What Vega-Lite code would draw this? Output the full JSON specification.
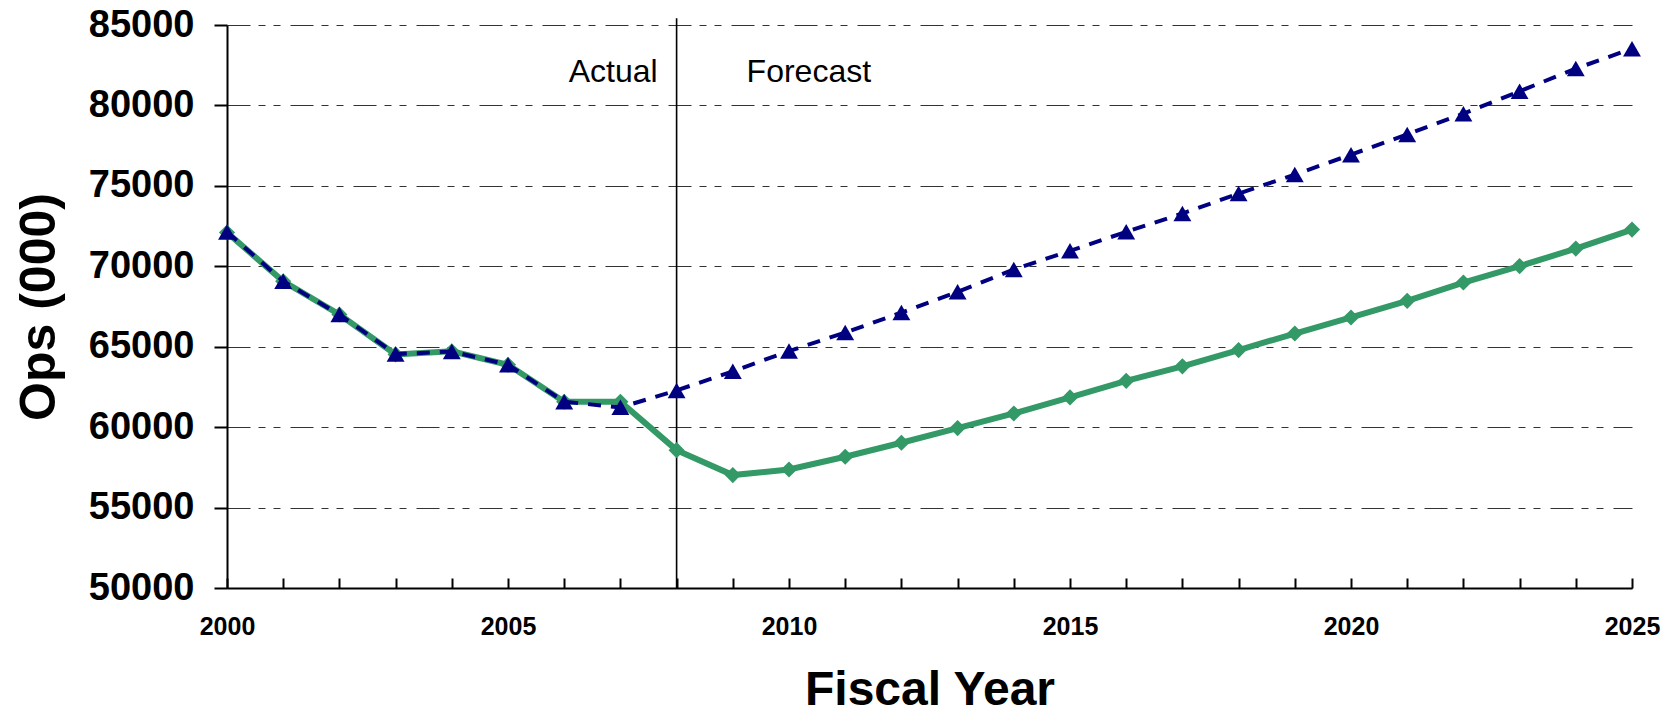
{
  "$schema": "https://vega.github.io/schema/vega-lite/v6.json",
  "autosize": {"type": "none"},
  "width": 1405,
  "height": 563,
  "padding": {"left": 227, "top": 25, "right": 43, "bottom": 129},
  "background": "white",
  "config": {"view": {"stroke": null}, "font": "Liberation Sans"},
  "datasets": {
    "ops": [
      {"year": 2000, "series": "Current", "ops": 72100},
      {"year": 2001, "series": "Current", "ops": 69070},
      {"year": 2002, "series": "Current", "ops": 67000},
      {"year": 2003, "series": "Current", "ops": 64520},
      {"year": 2004, "series": "Current", "ops": 64720},
      {"year": 2005, "series": "Current", "ops": 63880},
      {"year": 2006, "series": "Current", "ops": 61580},
      {"year": 2007, "series": "Current", "ops": 61580},
      {"year": 2008, "series": "Current", "ops": 58570},
      {"year": 2009, "series": "Current", "ops": 57020},
      {"year": 2010, "series": "Current", "ops": 57370},
      {"year": 2011, "series": "Current", "ops": 58160},
      {"year": 2012, "series": "Current", "ops": 59030},
      {"year": 2013, "series": "Current", "ops": 59940},
      {"year": 2014, "series": "Current", "ops": 60850},
      {"year": 2015, "series": "Current", "ops": 61850},
      {"year": 2016, "series": "Current", "ops": 62880},
      {"year": 2017, "series": "Current", "ops": 63780},
      {"year": 2018, "series": "Current", "ops": 64790},
      {"year": 2019, "series": "Current", "ops": 65820},
      {"year": 2020, "series": "Current", "ops": 66820},
      {"year": 2021, "series": "Current", "ops": 67850},
      {"year": 2022, "series": "Current", "ops": 68990},
      {"year": 2023, "series": "Current", "ops": 70010},
      {"year": 2024, "series": "Current", "ops": 71100},
      {"year": 2025, "series": "Current", "ops": 72280},
      {"year": 2000, "series": "Previous", "ops": 72130},
      {"year": 2001, "series": "Previous", "ops": 69070},
      {"year": 2002, "series": "Previous", "ops": 67000},
      {"year": 2003, "series": "Previous", "ops": 64540},
      {"year": 2004, "series": "Previous", "ops": 64700},
      {"year": 2005, "series": "Previous", "ops": 63880},
      {"year": 2006, "series": "Previous", "ops": 61580},
      {"year": 2007, "series": "Previous", "ops": 61230},
      {"year": 2008, "series": "Previous", "ops": 62280},
      {"year": 2009, "series": "Previous", "ops": 63470},
      {"year": 2010, "series": "Previous", "ops": 64730},
      {"year": 2011, "series": "Previous", "ops": 65880},
      {"year": 2012, "series": "Previous", "ops": 67120},
      {"year": 2013, "series": "Previous", "ops": 68410},
      {"year": 2014, "series": "Previous", "ops": 69800},
      {"year": 2015, "series": "Previous", "ops": 70960},
      {"year": 2016, "series": "Previous", "ops": 72140},
      {"year": 2017, "series": "Previous", "ops": 73280},
      {"year": 2018, "series": "Previous", "ops": 74520},
      {"year": 2019, "series": "Previous", "ops": 75700},
      {"year": 2020, "series": "Previous", "ops": 76940},
      {"year": 2021, "series": "Previous", "ops": 78200},
      {"year": 2022, "series": "Previous", "ops": 79490},
      {"year": 2023, "series": "Previous", "ops": 80880},
      {"year": 2024, "series": "Previous", "ops": 82290},
      {"year": 2025, "series": "Previous", "ops": 83530}
    ],
    "divider": [{"year": 2008, "bottom": 50000, "top": 85420}],
    "labels": [
      {"year": 2008, "ops": 81440, "label": "Actual", "side": "left"},
      {"year": 2008, "ops": 81440, "label": "Forecast", "side": "right"}
    ]
  },
  "encoding": {
    "x": {
      "field": "year",
      "type": "quantitative",
      "scale": {"domain": [2000, 2025], "nice": false, "zero": false},
      "axis": {
        "title": "Fiscal Year",
        "values": [2000,2001,2002,2003,2004,2005,2006,2007,2008,2009,2010,2011,2012,2013,2014,2015,2016,2017,2018,2019,2020,2021,2022,2023,2024,2025],
        "labelExpr": "datum.value % 5 === 0 ? datum.value : ''",
        "grid": false,
        "tickSize": -10,
        "tickWidth": 2,
        "tickColor": "black",
        "domainColor": "black",
        "domainWidth": 2,
        "labelFont": "Liberation Sans",
        "labelFontSize": 25,
        "labelFontWeight": "bold",
        "labelColor": "black",
        "labelPadding": 36,
        "labelOverlap": false,
        "labelFlush": false,
        "titleFont": "Liberation Sans",
        "titleFontSize": 48,
        "titleFontWeight": "bold",
        "titleColor": "black",
        "titlePadding": 27
      }
    }
  },
  "layer": [
    {
      "data": {"name": "ops"},
      "mark": {"type": "rule", "opacity": 0},
      "encoding": {
        "y": {
          "field": "ops",
          "type": "quantitative",
          "scale": {"domain": [50000, 85000], "nice": false, "zero": false},
          "axis": {
            "title": "Ops (000)",
            "values": [50000, 55000, 60000, 65000, 70000, 75000, 80000, 85000],
            "format": "d",
            "grid": true,
            "gridColor": "#333333",
            "gridWidth": 1.2,
            "gridDash": [23, 8, 7, 8, 7, 10],
            "tickSize": 13,
            "tickWidth": 2,
            "tickColor": "black",
            "domainColor": "black",
            "domainWidth": 2,
            "labelFont": "Liberation Sans",
            "labelFontSize": 38,
            "labelFontWeight": "bold",
            "labelColor": "black",
            "labelPadding": 20,
            "labelFlush": false,
            "titleFont": "Liberation Sans",
            "titleFontSize": 50,
            "titleFontWeight": "bold",
            "titleColor": "black",
            "titlePadding": 24
          }
        }
      }
    },
    {
      "data": {"name": "divider"},
      "mark": {"type": "rule", "color": "black", "strokeWidth": 1.6},
      "encoding": {
        "y": {"field": "bottom", "type": "quantitative"},
        "y2": {"field": "top"}
      }
    },
    {
      "data": {"name": "ops"},
      "transform": [{"filter": "datum.series === 'Current'"}],
      "mark": {
        "type": "line",
        "color": "#339966",
        "strokeWidth": 6,
        "point": {"shape": "diamond", "size": 260, "filled": true, "color": "#339966", "opacity": 1}
      },
      "encoding": {
        "y": {"field": "ops", "type": "quantitative"}
      }
    },
    {
      "data": {"name": "ops"},
      "transform": [{"filter": "datum.series === 'Previous'"}],
      "mark": {
        "type": "line",
        "color": "#000080",
        "strokeWidth": 4,
        "strokeDash": [13, 10],
        "point": {"shape": "triangle-up", "size": 320, "filled": true, "color": "#000080", "opacity": 1}
      },
      "encoding": {
        "y": {"field": "ops", "type": "quantitative"}
      }
    },
    {
      "data": {"name": "labels"},
      "transform": [{"filter": "datum.side === 'left'"}],
      "mark": {"type": "text", "font": "Liberation Sans", "fontSize": 32, "align": "right", "baseline": "alphabetic", "dx": -19, "color": "black"},
      "encoding": {
        "y": {"field": "ops", "type": "quantitative"},
        "text": {"field": "label"}
      }
    },
    {
      "data": {"name": "labels"},
      "transform": [{"filter": "datum.side === 'right'"}],
      "mark": {"type": "text", "font": "Liberation Sans", "fontSize": 32, "align": "left", "baseline": "alphabetic", "dx": 70, "color": "black"},
      "encoding": {
        "y": {"field": "ops", "type": "quantitative"},
        "text": {"field": "label"}
      }
    }
  ]
}
